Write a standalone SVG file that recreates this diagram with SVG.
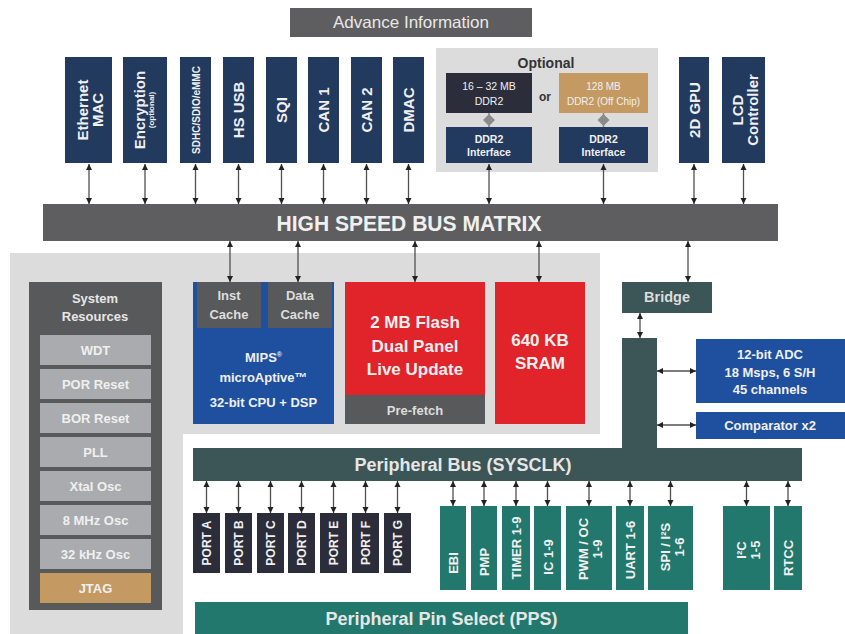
<svg xmlns="http://www.w3.org/2000/svg" width="845" height="634" viewBox="0 0 845 634">
<style>
text{font-family:"Liberation Sans",Arial,sans-serif;font-weight:bold;fill:#f0f0f0;text-anchor:middle}
.navy{fill:#233a5f}
.dg{fill:#5e5e60}
.lg{fill:#dcdcdc}
.item{fill:#a9abae}
.tan{fill:#c49a62}
.blk{fill:#2b2d3a}
.teal{fill:#22786c}
.slate{fill:#3c5557}
.red{fill:#e1232a}
.blue{fill:#1f4f9f}
.c{stroke:#505050;stroke-width:1.3;fill:none;marker-start:url(#ah);marker-end:url(#ah)}
.t15{font-size:15px}
.t13{font-size:13px}
.t12{font-size:12px}
.t17{font-size:17px}
.t10{font-size:10.5px}
</style>
<defs>
<marker id="ah" markerUnits="userSpaceOnUse" markerWidth="7" markerHeight="7" refX="6" refY="3" orient="auto-start-reverse" viewBox="0 0 7 6">
<path d="M0,0 L6,3 L0,6 z" fill="#222"/>
</marker>
</defs>

<rect width="845" height="634" fill="#ffffff"/>

<g id="advance-info">
<rect x="290" y="8" width="242" height="29" class="dg"/>
<text x="411" y="28" textLength="156" lengthAdjust="spacingAndGlyphs" style="font-size:16.5px;font-weight:normal;fill:#e8e8e8">Advance Information</text>
</g>

<g id="ethernet-mac">
<rect x="65" y="57" width="47" height="106" class="navy"/>
<text class="t15" transform="translate(88.5,110) rotate(-90)" y="-1">Ethernet</text>
<text class="t15" transform="translate(88.5,110) rotate(-90)" y="14">MAC</text>
</g>
<g id="encryption">
<rect x="123" y="57" width="44" height="106" class="navy"/>
<text class="t15" transform="translate(145,110) rotate(-90)" y="0">Encryption</text>
<text transform="translate(145,110) rotate(-90)" y="9" style="font-size:8px">(optional)</text>
</g>
<g id="sdhc">
<rect x="180" y="57" width="31" height="106" class="navy"/>
<text transform="translate(195.5,110) rotate(-90)" y="4" style="font-size:10px">SDHC/SDIO/eMMC</text>
</g>
<g id="hs-usb">
<rect x="223" y="57" width="31" height="106" class="navy"/>
<text class="t15" transform="translate(238.5,110) rotate(-90)" y="5.5">HS USB</text>
</g>
<g id="sqi">
<rect x="266" y="57" width="31" height="106" class="navy"/>
<text class="t15" transform="translate(281.5,110) rotate(-90)" y="5.5">SQI</text>
</g>
<g id="can1">
<rect x="308" y="57" width="31" height="106" class="navy"/>
<text class="t15" transform="translate(323.5,110) rotate(-90)" y="5.5">CAN 1</text>
</g>
<g id="can2">
<rect x="351" y="57" width="31" height="106" class="navy"/>
<text class="t15" transform="translate(366.5,110) rotate(-90)" y="5.5">CAN 2</text>
</g>
<g id="dmac">
<rect x="393" y="57" width="31" height="106" class="navy"/>
<text class="t15" transform="translate(408.5,110) rotate(-90)" y="5.5">DMAC</text>
</g>

<g id="optional">
<rect x="436" y="48" width="222" height="124" class="lg"/>
<text x="546" y="68" style="font-size:14px;fill:#333">Optional</text>
<text x="545" y="101" style="font-size:12px;fill:#333">or</text>
<line x1="489" y1="113" x2="489" y2="127" stroke="#8a8a8a" stroke-width="1.5"/>
<line x1="603.5" y1="113" x2="603.5" y2="127" stroke="#8a8a8a" stroke-width="1.5"/>
<path d="M489,114 L495,120 L489,126 L483,120 z M603.5,114 L609.5,120 L603.5,126 L597.5,120 z" fill="#8a8a8a"/>
</g>
<g id="ddr2-onchip">
<rect x="446" y="73" width="86" height="40" class="blk"/>
<text class="t10" x="489" y="90" style="font-weight:normal">16 – 32 MB</text>
<text class="t10" x="489" y="105" style="font-weight:normal">DDR2</text>
</g>
<g id="ddr2-offchip">
<rect x="559" y="73" width="89" height="40" class="tan"/>
<text class="t10" x="603.5" y="90" style="font-weight:normal;font-size:10px">128 MB</text>
<text class="t10" x="603.5" y="105" style="font-weight:normal;font-size:10px">DDR2 (Off Chip)</text>
</g>
<g id="ddr2-if1">
<rect x="446" y="127" width="86" height="36" class="navy"/>
<text class="t10" x="489" y="143">DDR2</text>
<text class="t10" x="489" y="156">Interface</text>
</g>
<g id="ddr2-if2">
<rect x="559" y="127" width="89" height="36" class="navy"/>
<text class="t10" x="603.5" y="143">DDR2</text>
<text class="t10" x="603.5" y="156">Interface</text>
</g>

<g id="gpu">
<rect x="679" y="57" width="30" height="106" class="navy"/>
<text class="t15" transform="translate(694,110) rotate(-90)" y="5.5">2D GPU</text>
</g>
<g id="lcd">
<rect x="722" y="57" width="43" height="106" class="navy"/>
<text class="t15" transform="translate(743.5,110) rotate(-90)" y="-1">LCD</text>
<text class="t15" transform="translate(743.5,110) rotate(-90)" y="14">Controller</text>
</g>

<g id="bus-matrix">
<rect x="43" y="204" width="735" height="37" class="dg"/>
<text x="409" y="230.5" textLength="265" lengthAdjust="spacingAndGlyphs" style="font-size:22px">HIGH SPEED BUS MATRIX</text>
</g>

<g id="core-panel">
<path d="M10,253 H600 V434 H183 V634 H10 Z" class="lg"/>
</g>

<g id="system-resources">
<rect x="29" y="282" width="133" height="328" fill="#58595b"/>
<text class="t13" x="95" y="303" style="fill:#e6e6e6">System</text>
<text class="t13" x="95" y="321" style="fill:#e6e6e6">Resources</text>
<rect x="40" y="335" width="111" height="30" class="item"/>
<text class="t13" x="95.5" y="355">WDT</text>
<rect x="40" y="369" width="111" height="30" class="item"/>
<text class="t13" x="95.5" y="389">POR Reset</text>
<rect x="40" y="403" width="111" height="30" class="item"/>
<text class="t13" x="95.5" y="423">BOR Reset</text>
<rect x="40" y="437" width="111" height="30" class="item"/>
<text class="t13" x="95.5" y="457">PLL</text>
<rect x="40" y="471" width="111" height="30" class="item"/>
<text class="t13" x="95.5" y="491">Xtal Osc</text>
<rect x="40" y="505" width="111" height="30" class="item"/>
<text class="t13" x="95.5" y="525">8 MHz Osc</text>
<rect x="40" y="539" width="111" height="30" class="item"/>
<text class="t13" x="95.5" y="559">32 kHz Osc</text>
<rect x="40" y="573" width="111" height="30" class="tan"/>
<text class="t13" x="95.5" y="593">JTAG</text>
</g>

<g id="cpu">
<rect x="193" y="282" width="141" height="142" class="blue"/>
<rect x="197" y="282" width="64" height="46" fill="#58595b"/>
<rect x="268" y="282" width="64" height="46" fill="#58595b"/>
<text class="t13" x="229" y="300" style="fill:#ddd">Inst</text>
<text class="t13" x="229" y="319" style="fill:#ddd">Cache</text>
<text class="t13" x="300" y="300" style="fill:#ddd">Data</text>
<text class="t13" x="300" y="319" style="fill:#ddd">Cache</text>
<text class="t13" x="263.5" y="362">MIPS<tspan style="font-size:7px" dy="-5">®</tspan></text>
<text class="t13" x="263.5" y="382">microAptive™</text>
<text class="t13" x="263.5" y="407">32-bit CPU + DSP</text>
</g>

<g id="flash">
<rect x="345" y="282" width="140" height="113" class="red"/>
<rect x="345" y="395" width="140" height="29" fill="#58595b"/>
<text class="t17" x="415" y="328">2 MB Flash</text>
<text class="t17" x="415" y="352">Dual Panel</text>
<text class="t17" x="415" y="375">Live Update</text>
<text class="t13" x="415" y="415" style="fill:#ddd">Pre-fetch</text>
</g>

<g id="sram">
<rect x="495" y="282" width="90" height="142" class="red"/>
<text class="t17" x="540" y="346">640 KB</text>
<text class="t17" x="540" y="369">SRAM</text>
</g>

<g id="bridge">
<rect x="622" y="282" width="90" height="31" class="slate"/>
<text x="667" y="302" style="font-size:14.5px;fill:#ddd">Bridge</text>
</g>

<g id="adc">
<rect x="696" y="339" width="149" height="64" class="blue"/>
<text class="t13" x="770" y="359">12-bit ADC</text>
<text class="t13" x="770" y="377">18 Msps, 6 S/H</text>
<text class="t13" x="770" y="394">45 channels</text>
</g>
<g id="comparator">
<rect x="696" y="412" width="149" height="27" class="blue"/>
<text class="t13" x="770" y="430">Comparator x2</text>
</g>

<g id="peripheral-bus">
<path d="M622,338 H657 V448 H802 V481 H193 V448 H622 Z" class="slate"/>
<text x="463" y="471" style="font-size:18px;fill:#e6e6e6">Peripheral Bus (SYSCLK)</text>
</g>

<g id="ports">
<rect x="193" y="513" width="27" height="60" class="blk"/>
<text class="t12" transform="translate(206.5,543) rotate(-90)" y="4.5">PORT A</text>
<rect x="225" y="513" width="27" height="60" class="blk"/>
<text class="t12" transform="translate(238.5,543) rotate(-90)" y="4.5">PORT B</text>
<rect x="257" y="513" width="27" height="60" class="blk"/>
<text class="t12" transform="translate(270.5,543) rotate(-90)" y="4.5">PORT C</text>
<rect x="288" y="513" width="27" height="60" class="blk"/>
<text class="t12" transform="translate(301.5,543) rotate(-90)" y="4.5">PORT D</text>
<rect x="320" y="513" width="27" height="60" class="blk"/>
<text class="t12" transform="translate(333.5,543) rotate(-90)" y="4.5">PORT E</text>
<rect x="352" y="513" width="27" height="60" class="blk"/>
<text class="t12" transform="translate(365.5,543) rotate(-90)" y="4.5">PORT F</text>
<rect x="384" y="513" width="27" height="60" class="blk"/>
<text class="t12" transform="translate(397.5,543) rotate(-90)" y="4.5">PORT G</text>
</g>

<g id="peripherals">
<rect x="440" y="506" width="26" height="84" class="teal"/>
<text class="t13" transform="translate(453,563) rotate(-90)" y="5">EBI</text>
<rect x="471" y="506" width="26" height="84" class="teal"/>
<text class="t13" transform="translate(484,562) rotate(-90)" y="5">PMP</text>
<rect x="502" y="506" width="28" height="84" class="teal"/>
<text class="t13" transform="translate(516,548) rotate(-90)" y="5">TIMER 1-9</text>
<rect x="534" y="506" width="27" height="84" class="teal"/>
<text class="t13" transform="translate(547.5,557) rotate(-90)" y="5">IC 1-9</text>
<rect x="566" y="506" width="46" height="84" class="teal"/>
<text class="t13" transform="translate(589,549) rotate(-90)" y="-1">PWM / OC</text>
<text class="t13" transform="translate(589,549) rotate(-90)" y="13">1-9</text>
<rect x="616" y="506" width="28" height="84" class="teal"/>
<text class="t13" transform="translate(630,550) rotate(-90)" y="5">UART 1-6</text>
<rect x="648" y="506" width="45" height="84" class="teal"/>
<text class="t13" transform="translate(670.5,547) rotate(-90)" y="-1">SPI / I²S</text>
<text class="t13" transform="translate(670.5,547) rotate(-90)" y="13">1-6</text>
<rect x="723" y="506" width="47" height="84" class="teal"/>
<text class="t13" transform="translate(746.5,550) rotate(-90)" y="-1">I²C</text>
<text class="t13" transform="translate(746.5,550) rotate(-90)" y="13">1-5</text>
<rect x="774" y="506" width="28" height="84" class="teal"/>
<text class="t13" transform="translate(788,558) rotate(-90)" y="5">RTCC</text>
</g>

<g id="pps">
<rect x="195" y="602" width="493" height="32" class="teal"/>
<text x="441.5" y="625" style="font-size:18px;fill:#e6e6e6">Peripheral Pin Select (PPS)</text>
</g>

<g id="connectors">
<line class="c" x1="89" y1="164" x2="89" y2="204"/>
<line class="c" x1="145" y1="164" x2="145" y2="204"/>
<line class="c" x1="195.5" y1="164" x2="195.5" y2="204"/>
<line class="c" x1="238.5" y1="164" x2="238.5" y2="204"/>
<line class="c" x1="281.5" y1="164" x2="281.5" y2="204"/>
<line class="c" x1="323.5" y1="164" x2="323.5" y2="204"/>
<line class="c" x1="366.5" y1="164" x2="366.5" y2="204"/>
<line class="c" x1="408.5" y1="164" x2="408.5" y2="204"/>
<line class="c" x1="489" y1="164" x2="489" y2="204"/>
<line class="c" x1="603.5" y1="164" x2="603.5" y2="204"/>
<line class="c" x1="694" y1="164" x2="694" y2="204"/>
<line class="c" x1="743.5" y1="164" x2="743.5" y2="204"/>
<line class="c" x1="230" y1="241" x2="230" y2="282"/>
<line class="c" x1="298" y1="241" x2="298" y2="282"/>
<line class="c" x1="415" y1="241" x2="415" y2="282"/>
<line class="c" x1="539" y1="241" x2="539" y2="282"/>
<line class="c" x1="688" y1="241" x2="688" y2="282"/>
<line class="c" x1="640" y1="313" x2="640" y2="338"/>
<line class="c" x1="657" y1="371" x2="696" y2="371"/>
<line class="c" x1="657" y1="425" x2="696" y2="425"/>
<line class="c" x1="206.5" y1="481" x2="206.5" y2="513"/>
<line class="c" x1="238.5" y1="481" x2="238.5" y2="513"/>
<line class="c" x1="270.5" y1="481" x2="270.5" y2="513"/>
<line class="c" x1="301.5" y1="481" x2="301.5" y2="513"/>
<line class="c" x1="333.5" y1="481" x2="333.5" y2="513"/>
<line class="c" x1="365.5" y1="481" x2="365.5" y2="513"/>
<line class="c" x1="397.5" y1="481" x2="397.5" y2="513"/>
<line class="c" x1="453" y1="481" x2="453" y2="506"/>
<line class="c" x1="484" y1="481" x2="484" y2="506"/>
<line class="c" x1="516" y1="481" x2="516" y2="506"/>
<line class="c" x1="547.5" y1="481" x2="547.5" y2="506"/>
<line class="c" x1="589" y1="481" x2="589" y2="506"/>
<line class="c" x1="630" y1="481" x2="630" y2="506"/>
<line class="c" x1="670.5" y1="481" x2="670.5" y2="506"/>
<line class="c" x1="746.5" y1="481" x2="746.5" y2="506"/>
<line class="c" x1="788" y1="481" x2="788" y2="506"/>
</g>
</svg>
